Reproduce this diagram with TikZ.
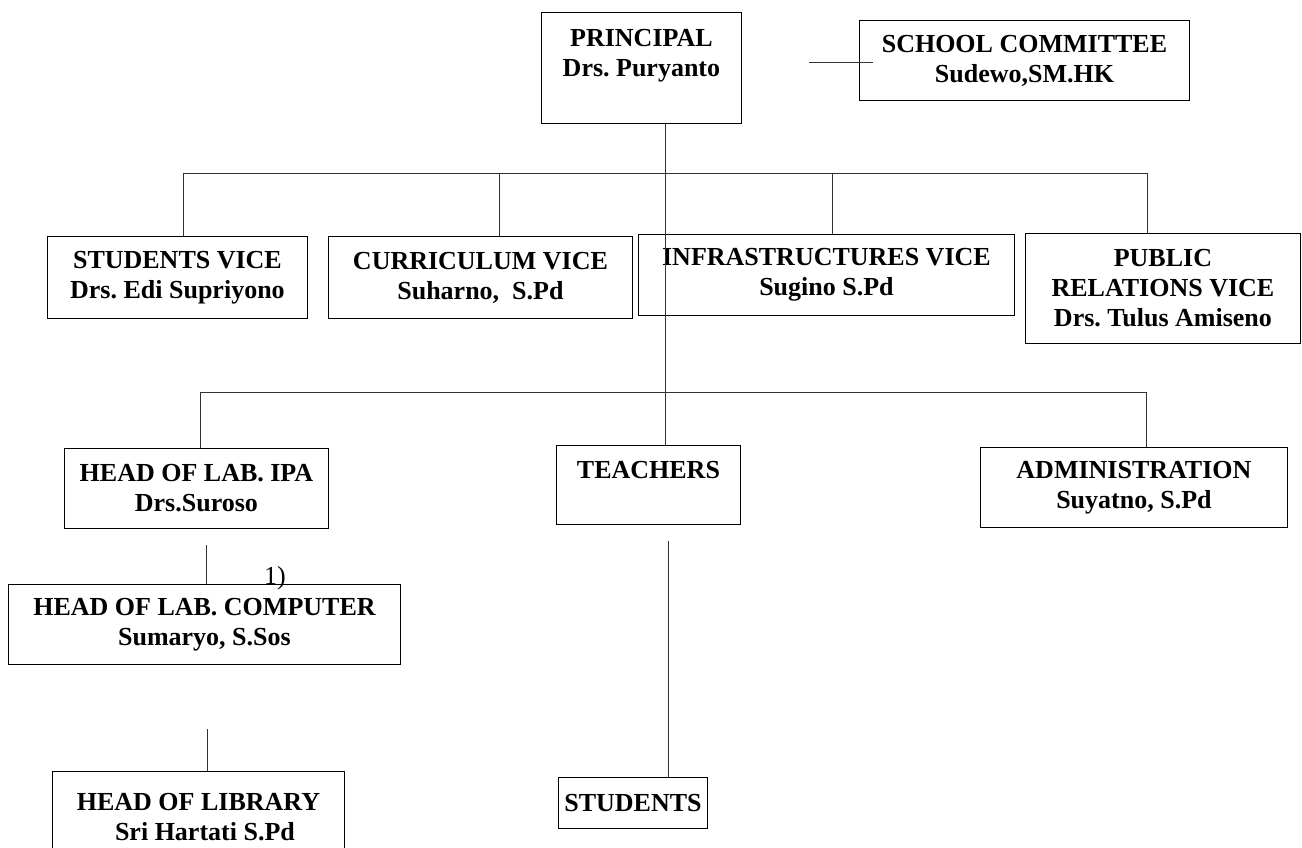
\documentclass[tikz,border=0pt]{standalone}
\usepackage{fontspec}
\setmainfont{Liberation Serif}
\frenchspacing
\usetikzlibrary{shapes,arrows,positioning,calc}

\tikzset{
  unit/.style={draw, line width=0.9pt, align=center, inner sep=0pt, anchor=north west,
    font=\fontsize{26}{30}\selectfont\bfseries},
  link/.style={line width=0.8pt, draw=black!80}
}

\begin{document}
\begin{tikzpicture}[x=1pt, y=-1pt]
    \useasboundingbox (0,0) rectangle (1302,848);
    % top
    \node[unit, minimum width=200, minimum height=111] (prin) at (541,12) {PRINCIPAL\\Drs. Puryanto\\~};
    \node[unit, minimum width=330, minimum height=80] (comm) at (859,20) {SCHOOL COMMITTEE\\Sudewo,SM.HK};
    % vices
    \node[unit, minimum width=260, minimum height=82] (sv) at (47,236) {STUDENTS VICE\\Drs. Edi Supriyono};
    \node[unit, minimum width=304, minimum height=82] (cv) at (328,236) {CURRICULUM VICE\\Suharno,\ \ S.Pd};
    \node[unit, minimum width=376, minimum height=81] (iv) at (638,234) {INFRASTRUCTURES VICE\\Sugino S.Pd};
    \node[unit, minimum width=275, minimum height=110] (pv) at (1025,233) {PUBLIC\\RELATIONS VICE\\Drs. Tulus Amiseno};
    % heads
    \node[unit, minimum width=264, minimum height=80] (ipa) at (64,448) {HEAD OF LAB. IPA\\Drs.Suroso};
    \node[unit, minimum width=184, minimum height=79] (teach) at (556,445) {TEACHERS\\~};
    \node[unit, minimum width=307, minimum height=80] (adm) at (980,447) {ADMINISTRATION\\Suyatno, S.Pd};
    \node[unit, minimum width=392, minimum height=80] (comp) at (8,584) {HEAD OF LAB. COMPUTER\\Sumaryo, S.Sos};
    \node[unit, minimum width=292, minimum height=92] (lib) at (52,771) {HEAD OF LIBRARY\\\ \ Sri Hartati S.Pd};
    \node[unit, minimum width=149, minimum height=51] (stud) at (558,777) {STUDENTS};
    \node[font=\fontsize{26}{30}\selectfont] (one) at (275,578) {1)};

    % principal and committee
    \coordinate (cl) at (809,62);
    \draw[link] (cl) -- ([xshift=14pt]comm.west |- cl);
    \coordinate (trunk) at (665,123);
    \draw[link] (trunk) -- (trunk |- teach.north);
    % vice bus
    \coordinate (b1l) at (183,173);
    \coordinate (b1r) at (1147,173);
    \coordinate (t2) at (499,173);
    \coordinate (t3) at (832,173);
    \draw[link] (b1l) -- (b1r);
    \draw[link] (b1l) -- (b1l |- sv.north);
    \draw[link] (t2) -- (t2 |- cv.north);
    \draw[link] (t3) -- (t3 |- iv.north);
    \draw[link] (b1r) -- (b1r |- pv.north);
    % head bus
    \coordinate (b2l) at (200,392);
    \coordinate (b2r) at (1146,392);
    \draw[link] (b2l) -- (b2r);
    \draw[link] (b2l) -- (b2l |- ipa.north);
    \draw[link] (b2r) -- (b2r |- adm.north);
    % lower
    \coordinate (c1) at (206,545);
    \draw[link] (c1) -- (c1 |- comp.north);
    \coordinate (c2) at (207,729);
    \draw[link] (c2) -- (c2 |- lib.north);
    \coordinate (c3) at (668,541);
    \draw[link] (c3) -- (c3 |- stud.north);
\end{tikzpicture}
\end{document}
